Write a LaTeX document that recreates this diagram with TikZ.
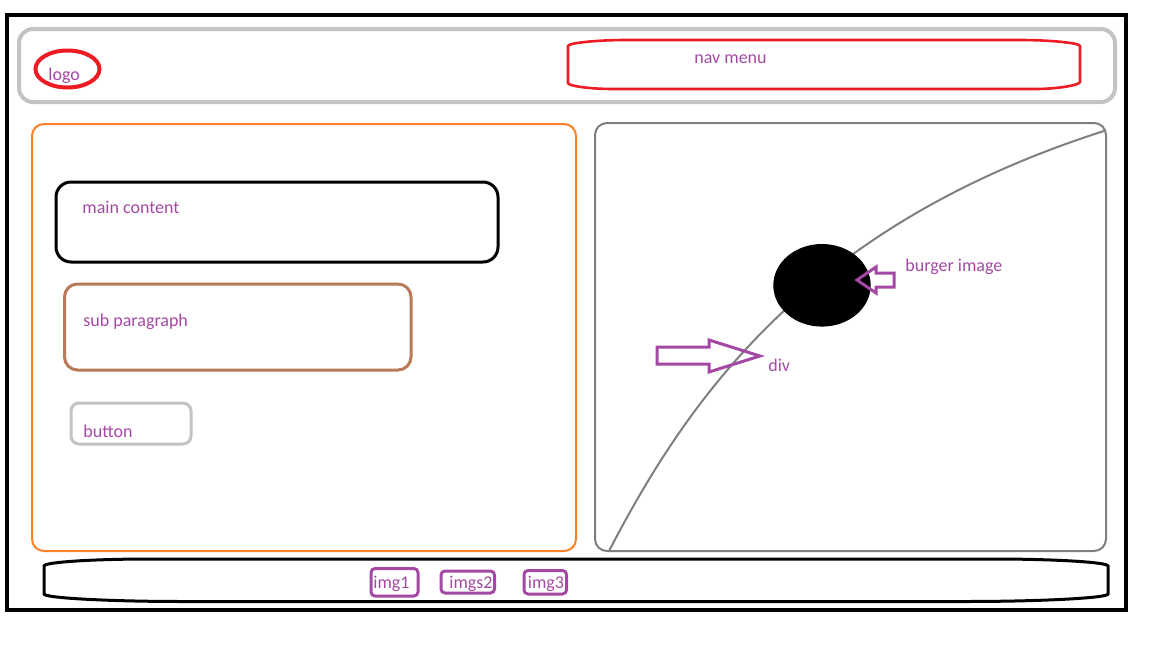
\documentclass[tikz,border=0pt]{standalone}
\usepackage{fontspec}
\setmainfont{Carlito}
\definecolor{paintred}{HTML}{ED1C24}
\definecolor{paintgray}{HTML}{C3C3C3}
\definecolor{paintdgray}{HTML}{7F7F7F}
\definecolor{paintorange}{HTML}{FF7F27}
\definecolor{paintbrown}{HTML}{B97A57}
\definecolor{paintpurple}{HTML}{A349A4}
\tikzset{wf text/.style={text=paintpurple,font=\fontsize{9}{11}\selectfont,
                         inner sep=0pt,anchor=base west},
         wf box/.style={draw=#1,line width=1.5pt},
         thumb/.style={draw=paintpurple,line width=1.5pt,rounded corners=2pt}}

\begin{document}
\begin{tikzpicture}[x=0.5pt,y=-0.5pt]
        \useasboundingbox (0,0) rectangle (1152,648);
        %
        % page frame and header
        \draw[line width=2pt] (6.5,14.5) rectangle (1126,610);
        \draw[paintgray,line width=2pt,rounded corners=7pt] (19,29) rectangle (1115,102);
        \draw[paintred,line width=2pt] (67.5,69) ellipse [x radius=32,y radius=18.5];
        \node[wf text] (logo) at (48,80) {logo};
        \draw[paintred,line width=1.3pt] (568,46) -- (568,83) .. controls (568,86) and (590,89) .. (613,89)
            -- (1035,89) .. controls (1058,89) and (1080,85) .. (1080,82) -- (1080,46)
            .. controls (1080,43) and (1050,40) .. (1020,40) -- (626,40)
            .. controls (597,40) and (568,43) .. (568,46) -- cycle;
        \node[wf text] (nav) at (694,63) {nav menu};
        %
        % left column
        \draw[paintorange,line width=1pt,rounded corners=6pt] (32,124) rectangle (576,551);
        \draw[wf box=black,rounded corners=7.5pt] (56,182) rectangle (498,262);
        \node[wf text] (main) at (82,213) {main content};
        \draw[wf box=paintbrown,rounded corners=6.5pt] (64.5,284) rectangle (411,370);
        \node[wf text] (sub) at (83,326) {sub paragraph};
        \draw[wf box=paintgray,rounded corners=4pt] (71,403) rectangle (191,444);
        \node[wf text] (button) at (83,437) {button};
        %
        % right column
        \draw[paintdgray,line width=1pt,rounded corners=6pt] (595,123) rectangle (1106,551);
        \draw[paintdgray,line width=1pt] (609,551) .. controls (690,395) and (810,225) .. (1104,131);
        \fill (822,285.3) ellipse [x radius=48.7,y radius=41.3];
        \draw[paintpurple,line width=1.5pt] (857,280) -- (876,267) -- (876,273) -- (894,273)
            -- (894,287) -- (876,287) -- (876,293) -- cycle;
        \node[wf text] (burger) at (905,271.5) {burger image};
        \draw[paintpurple,line width=1.5pt] (657,347) -- (709,347) -- (709,340) -- (760,356)
            -- (709,372) -- (709,364) -- (657,364) -- cycle;
        \node[wf text] (div) at (768,371.5) {div};
        %
        % footer
        \draw[line width=1.5pt] (44,566) -- (44,594) .. controls (44,598) and (110,601.5) .. (182,601.5)
            -- (966,601.5) .. controls (1040,601.5) and (1108,598) .. (1108,594) -- (1108,566)
            .. controls (1108,562) and (1050,559) .. (995,559) -- (150,559)
            .. controls (95,559) and (44,562) .. (44,566) -- cycle;
        \foreach \Name/\XA/\YA/\XB/\YB/\Tx in {img1/371/568.5/418/596/373,
            imgs2/441/571/494.5/593/449,img3/524/570.5/566.5/594/527.5}
            {
                \draw[thumb] (\XA,\YA) rectangle (\XB,\YB);
                \node[wf text] (\Name) at (\Tx,588) {\Name};
            }
\end{tikzpicture}
\end{document}
